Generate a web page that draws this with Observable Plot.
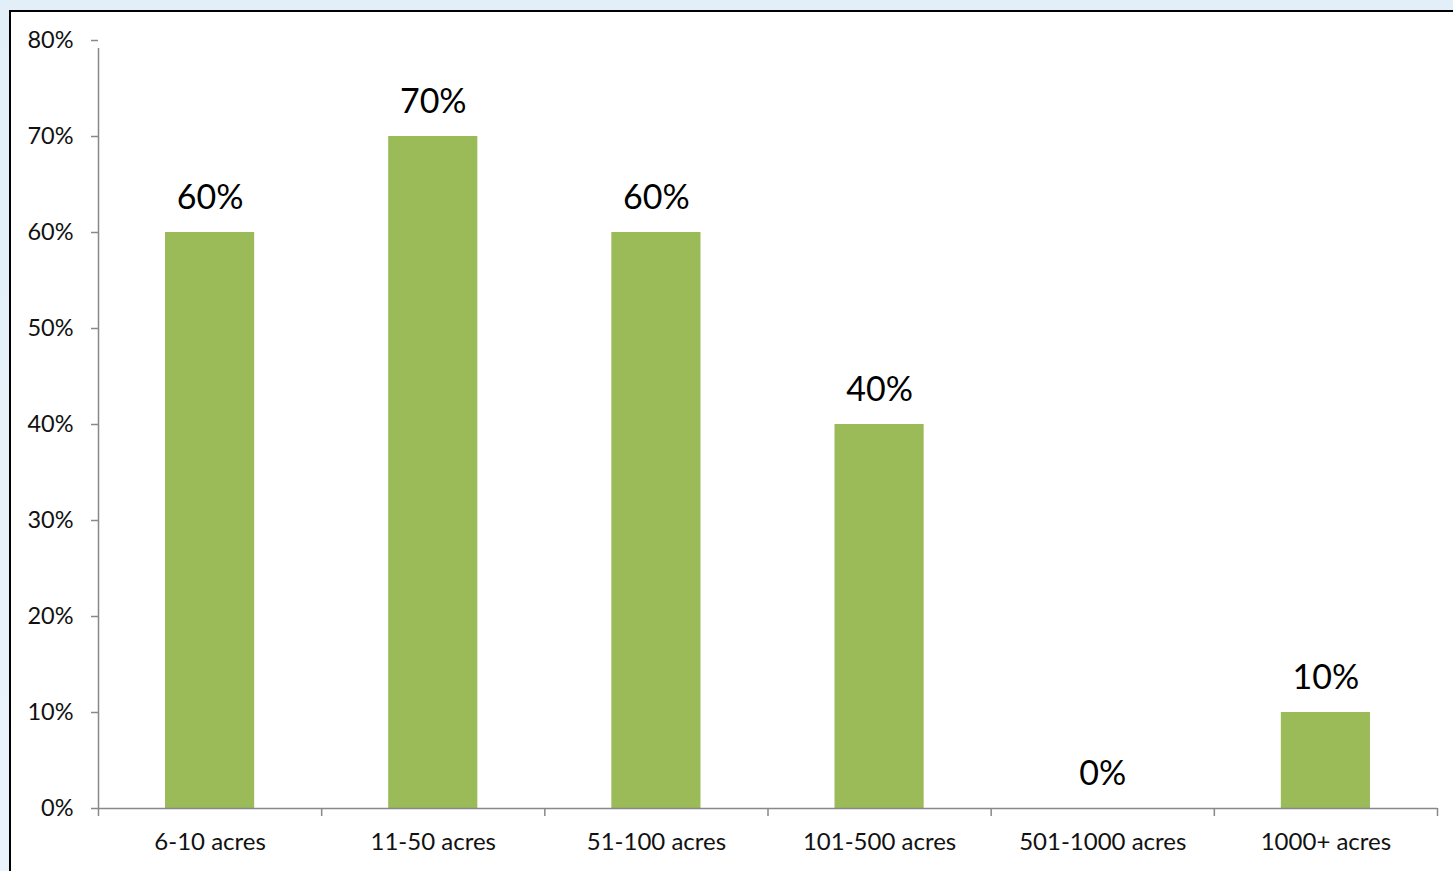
<!DOCTYPE html>
<html>
<head>
<meta charset="utf-8">
<script src="https://cdn.jsdelivr.net/npm/d3@7"></script>
<script src="https://cdn.jsdelivr.net/npm/@observablehq/plot@0.6"></script>
<style>
  html, body { margin: 0; padding: 0; }
  body { width: 1453px; height: 871px; overflow: hidden; background: linear-gradient(#e2eff9, #eaf3fb); position: relative; font-family: Lato, "Open Sans", sans-serif; }
  #frame { position: absolute; left: 9px; top: 10px; width: 1460px; height: 880px; background: #fff; border-left: 2px solid #000; border-top: 2px solid #000; box-sizing: border-box; }
  #chart { position: absolute; left: 0; top: 0; }
</style>
</head>
<body>
<div id="frame"></div>
<div id="chart"></div>
<script>
const categories = ["6-10 acres", "11-50 acres", "51-100 acres", "101-500 acres", "501-1000 acres", "1000+ acres"];
const values = [0.60, 0.70, 0.60, 0.40, 0.00, 0.10];
const yTicks = [0, 0.1, 0.2, 0.3, 0.4, 0.5, 0.6, 0.7, 0.8];

const data = categories.map((c, i) => ({cat: c, i, v: values[i]}));
const bounds = d3.range(categories.length + 1);

const chart = Plot.plot({
  width: 1453,
  height: 871,
  marginLeft: 98,
  marginRight: 16,
  marginTop: 40,
  marginBottom: 63,
  style: {fontFamily: "Lato, 'Open Sans', sans-serif", background: "transparent", color: "#111"},
  x: {type: "linear", domain: [0, categories.length], axis: null},
  y: {type: "linear", domain: [0, 0.8], axis: null},
  marks: [
    Plot.rectY(data, {x1: d => d.i, x2: d => d.i + 1, y1: () => 0, y2: "v", fill: "#9bbb59", insetLeft: 67, insetRight: 67}),
    // y axis line
    Plot.ruleX([0], {x: d => d, y1: () => 0, y2: () => 0.8, stroke: "#888", strokeWidth: 1.5, insetBottom: -8}),
    // y ticks
    Plot.ruleY(yTicks, {y: d => d, x1: () => 0, x2: () => 0, stroke: "#888", strokeWidth: 1.5, insetLeft: -7}),
    Plot.text(yTicks, {x: () => 0, y: d => d, text: d => Math.round(d * 100) + "%", textAnchor: "end", dx: -25, fontSize: 23.5, fill: "#111"}),
    // x axis line
    Plot.ruleY([0], {y: d => d, x1: () => 0, x2: () => categories.length, stroke: "#888", strokeWidth: 1.5}),
    // x boundary ticks
    Plot.ruleX(bounds, {x: d => d, y1: () => 0, y2: () => 0, stroke: "#888", strokeWidth: 1.5, insetBottom: -8}),
    Plot.text(data, {x: d => d.i + 0.5, y: () => 0, text: "cat", dy: 34, fontSize: 24, fill: "#111"}),
    Plot.text(data, {x: d => d.i + 0.5, y: "v", text: d => Math.round(d.v * 100) + "%", dy: -34, fontSize: 34, fill: "#000"})
  ]
});
document.getElementById("chart").appendChild(chart);
</script>
</body>
</html>
